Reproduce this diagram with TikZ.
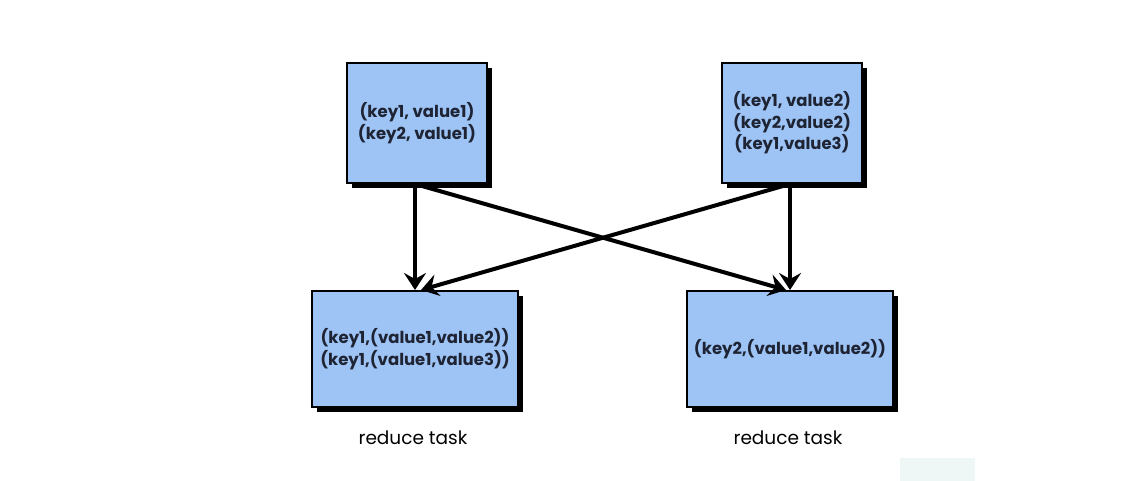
\documentclass[tikz,border=0pt]{standalone}
\usepackage{fontspec}
\setmainfont{Poppins}
\usetikzlibrary{arrows.meta,shadows,calc}
\definecolor{boxblue}{HTML}{9EC4F6}
\definecolor{txt}{HTML}{1E2433}
\definecolor{faint}{HTML}{EEF6F6}
\tikzset{
  mapbox/.style={draw=black, line width=2pt, fill=boxblue, align=center,
    font=\fontsize{16.5}{21.5}\selectfont\bfseries, text=txt,
    drop shadow={shadow xshift=5pt, shadow yshift=-5pt, fill=black, opacity=1}},
  flow/.style={line width=4pt, -{Stealth[length=17pt,width=22pt,inset=6pt]}},
  lbl/.style={font=\fontsize{18.5}{20}\selectfont, text=black}
}
\begin{document}
\begin{tikzpicture}[x=1pt,y=-1pt]
\useasboundingbox (0,0) rectangle (1139,481);
\fill[white] (0,0) rectangle (1139,481);
\fill[faint] (900,458) rectangle (975,481);
\node[mapbox, minimum width=140pt, minimum height=120pt] (tl) at (417,123) {(key1, value1)\\(key2, value1)};
\node[mapbox, minimum width=140pt, minimum height=120pt] (tr) at (792,123) {(key1, value2)\\(key2,value2)\\(key1,value3)};
\node[mapbox, minimum width=206pt, minimum height=116pt] (bl) at (415,349) {(key1,(value1,value2))\\(key1,(value1,value3))};
\node[mapbox, minimum width=206pt, minimum height=116pt] (br) at (790,349) {(key2,(value1,value2))};
\node[lbl] (l1) at (413,438) {reduce task};
\node[lbl] (l2) at (788,438) {reduce task};
\coordinate (a1) at (tl.south -| bl.north);
\coordinate (a2) at (tr.south -| br.north);
\draw[flow] (a1) -- (bl.north);
\draw[flow] (a2) -- (br.north);
\draw[flow] (a1) -- ($(br.north)+(-4,0)$);
\draw[flow] (a2) -- ($(bl.north)+(6,0)$);
\end{tikzpicture}
\end{document}
